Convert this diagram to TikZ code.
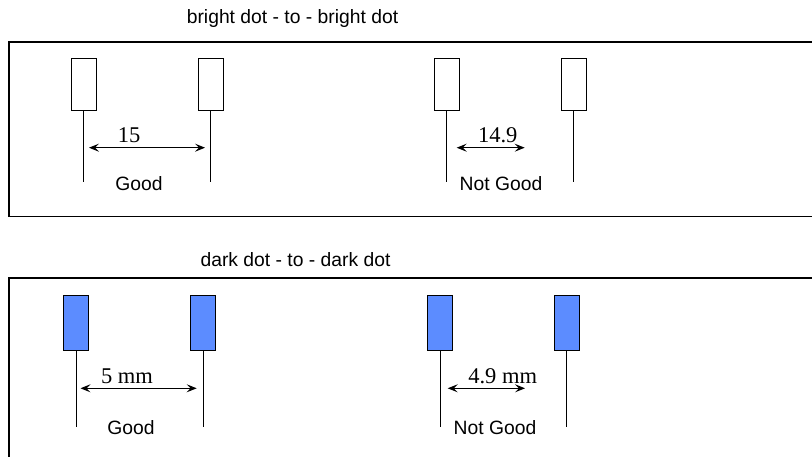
\documentclass[tikz,border=0pt]{standalone}
\usepackage{fontspec}
\setmainfont{Liberation Sans}
\newfontfamily\tnr{Liberation Serif}
\usetikzlibrary{arrows.meta}
\definecolor{dotblue}{RGB}{92,140,255}
\begin{document}
\begin{tikzpicture}[x=1pt,y=-1pt,
 frame/.style={draw, line width=1.5pt},
 brightdot/.style={draw, line width=1pt, minimum width=25pt, minimum height=52pt, inner sep=0pt, fill=white},
 darkdot/.style={brightdot, fill=dotblue, minimum height=55pt},
 lead/.style={line width=1pt},
 dim/.style={line width=1pt, {Stealth[length=10pt,width=8pt,inset=4pt]}-{Stealth[length=10pt,width=8pt,inset=4pt]}},
 lbl/.style={font=\fontsize{19.3}{22}\selectfont, anchor=base, inner sep=0pt},
 num/.style={font=\tnr\fontsize{22.5}{26}\selectfont, anchor=base, inner sep=0pt}]
\useasboundingbox (0,0) rectangle (812,457);
\begin{scope}
\clip (0,0) rectangle (812,457);
\draw[frame] (9,42) rectangle (830,216.7);
\draw[frame] (9,278) rectangle (830,480);
\end{scope}
% titles
\node[lbl] (t1) at (292.5,24) {bright dot - to - bright dot};
\node[lbl] (t2) at (295.5,267) {dark dot - to - dark dot};
% top row
\node[brightdot] (b1) at (83.8,85) {};
\node[brightdot] (b2) at (210.8,85) {};
\node[brightdot] (b3) at (446.8,85) {};
\node[brightdot] (b4) at (573.6,85) {};
\coordinate (b1e) at (83.8,182);
\coordinate (b2e) at (210.8,182);
\coordinate (b3e) at (446.8,182);
\coordinate (b4e) at (573.6,182);
\foreach \n in {b1,b2,b3,b4} \draw[lead] (\n.south) -- (\n e);
\coordinate (d1a) at (89,147.7);
\coordinate (d1b) at (205,147.7);
\coordinate (d2a) at (456.7,147.7);
\coordinate (d2b) at (524.7,147.7);
\draw[dim] (d1a) -- (d1b);
\draw[dim] (d2a) -- (d2b);
\node[num] (n1) at (129,142.7) {15};
\node[num] (n2) at (497.7,142.7) {14.9};
\node[lbl] (g1) at (139,190.5) {Good};
\node[lbl] (g2) at (501,190.5) {Not Good};
% bottom row
\node[darkdot] (k1) at (76.4,323.4) {};
\node[darkdot] (k2) at (203,323.4) {};
\node[darkdot] (k3) at (440.3,323.4) {};
\node[darkdot] (k4) at (566.8,323.4) {};
\coordinate (k1e) at (76.4,426.7);
\coordinate (k2e) at (203,426.7);
\coordinate (k3e) at (440.3,426.7);
\coordinate (k4e) at (566.8,426.7);
\foreach \n in {k1,k2,k3,k4} \draw[lead] (\n.south) -- (\n e);
\coordinate (d3a) at (80.5,388.3);
\coordinate (d3b) at (196.7,388.3);
\coordinate (d4a) at (447.7,388.3);
\coordinate (d4b) at (525,388.3);
\draw[dim] (d3a) -- (d3b);
\draw[dim] (d4a) -- (d4b);
\node[num] (n3) at (127,384) {5 mm};
\node[num] (n4) at (502.7,384) {4.9 mm};
\node[lbl] (g3) at (131,434) {Good};
\node[lbl] (g4) at (495,434) {Not Good};
\end{tikzpicture}
\end{document}
